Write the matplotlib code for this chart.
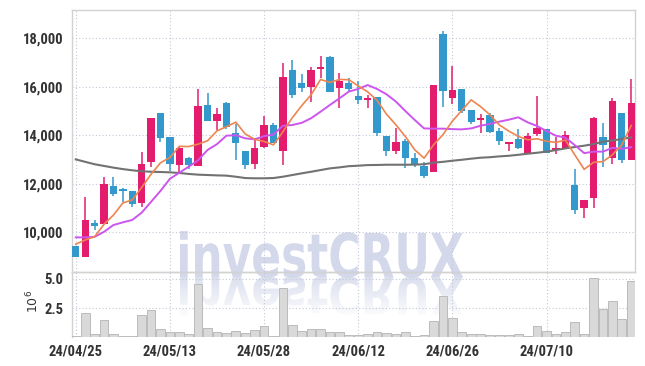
import numpy as np
import matplotlib
matplotlib.use("Agg")
import matplotlib.pyplot as plt
import matplotlib.transforms as mtransforms
from matplotlib.textpath import TextPath
from matplotlib.patches import PathPatch
from matplotlib.font_manager import FontProperties

# daily candles, 24/04/25 .. 24/07/19
opens = [9420, 8980, 10370, 10340, 11900, 11720, 11690, 11210, 12880, 14900,
         13920, 12780, 13060, 12740, 15245, 14600, 15340, 14080, 13350, 12800,
         13520, 14420, 13360, 16690, 16140, 15980, 16740, 17230, 15960, 16170,
         15620, 15440, 15560, 13960, 13350, 13760, 13060, 12740, 12460, 18180,
         15550, 15910, 15040, 14630, 14830, 14170, 13650, 13840, 13260, 14050,
         14250, 13390, 13440, 11940, 10980, 11390, 13910, 13070, 14900, 12970]
highs = [9420, 11430, 10480, 12280, 12260, 11800, 11700, 13320, 14710, 14900,
         13920, 13520, 13110, 15890, 15750, 15110, 15360, 14470, 13350, 13900,
         14790, 14490, 16970, 17100, 16510, 16830, 17280, 17270, 16580, 16370,
         16220, 15660, 15560, 13960, 14280, 13840, 13250, 12900, 16070, 18300,
         16860, 15910, 15040, 14860, 14900, 14280, 13730, 14240, 14080, 15620,
         14250, 13940, 14180, 12590, 11320, 14740, 14490, 15520, 14900, 16320]
lows = [8980, 8980, 10100, 10340, 11500, 11250, 11050, 11020, 12700, 13700,
        12520, 12490, 12590, 12740, 14600, 14210, 14250, 12970, 12600, 12600,
        13480, 13660, 12770, 15550, 15790, 15360, 16350, 15790, 15110, 15800,
        15270, 15110, 13980, 13140, 13210, 12630, 12700, 12220, 12460, 15150,
        15270, 14900, 14450, 14080, 14080, 13590, 13350, 13430, 13210, 13970,
        13260, 13210, 13440, 10730, 10570, 10980, 12700, 12800, 12840, 12970]
closes = [8980, 10500, 10230, 11970, 11580, 11700, 11160, 12810, 14710, 13900,
          12820, 13460, 12760, 15200, 14600, 14860, 14350, 13690, 12770, 13460,
          14420, 13660, 16390, 15660, 15960, 16690, 16820, 15790, 16240, 15900,
          15460, 15540, 14080, 13350, 13720, 13040, 12820, 12330, 16070, 15840,
          15850, 15000, 14560, 14670, 14120, 13760, 13730, 13480, 13970, 14310,
          13260, 13470, 14010, 10910, 11320, 14700, 13590, 15410, 12970, 15320]
ma_short = [9500, 9670, 9810, 10320, 10700, 11200, 11330, 11840, 12390, 12860,
            13080, 13540, 13530, 13630, 13770, 14180, 14350, 14540, 14050, 13830,
            13740, 13600, 14140, 14720, 15220, 15670, 16300, 16180, 16300, 16290,
            16040, 15790, 15440, 14870, 14430, 13950, 13400, 13050, 13600, 14020,
            14580, 15020, 15460, 15180, 14840, 14420, 14170, 13950, 13810, 13850,
            13750, 13700, 13800, 13190, 12590, 12880, 12910, 13190, 13600, 14400]
ma_mid = [9780, 9780, 9800, 10010, 10290, 10400, 10500, 10800, 11250, 11700,
          12200, 12450, 12700, 12970, 13390, 13630, 13980, 14000, 13870, 13830,
          13960, 14030, 14390, 14420, 14510, 14700, 14970, 15250, 15520, 15800,
          15910, 16070, 15910, 15690, 15390, 15000, 14630, 14280, 14270, 14270,
          14250, 14240, 14280, 14390, 14470, 14560, 14640, 14740, 14530, 14380,
          14170, 13980, 13900, 13590, 13260, 13320, 13320, 13480, 13430, 13510]
ma_long = [13000, 12900, 12800, 12730, 12660, 12600, 12550, 12510, 12490, 12480,
           12465, 12440, 12400, 12370, 12355, 12340, 12330, 12285, 12230, 12220,
           12220, 12230, 12285, 12355, 12425, 12490, 12560, 12630, 12670, 12720,
           12740, 12765, 12770, 12780, 12780, 12780, 12785, 12800, 12865, 12900,
           12945, 12985, 13030, 13070, 13090, 13125, 13150, 13190, 13235, 13275,
           13320, 13385, 13455, 13510, 13565, 13635, 13730, 13785, 13840, 13910]
volume = [0.11, 2.07, 0.26, 1.47, 0.26, 0.14, 0.14, 1.90, 2.33, 0.69,
          0.43, 0.43, 0.26, 4.57, 0.78, 0.43, 0.34, 0.52, 0.34, 0.60,
          0.95, 0.14, 4.22, 1.03, 0.52, 0.69, 0.69, 0.49, 0.46, 0.20,
          0.17, 0.29, 0.46, 0.37, 0.29, 0.46, 0.11, 0.17, 1.41, 3.56,
          1.64, 0.46, 0.29, 0.29, 0.20, 0.20, 0.20, 0.29, 0.09, 0.95,
          0.55, 0.29, 0.46, 1.32, 0.29, 5.09, 2.44, 3.10, 1.58, 4.83]
tick_pos = [0, 10, 20, 30, 40, 50]
tick_labels = ["24/04/25", "24/05/13", "24/05/28", "24/06/12", "24/06/26", "24/07/10"]
price_ticks = [10000, 12000, 14000, 16000, 18000]
vol_ticks = [2.5, 5.0]

RED = "#e31c6e"
BLUE = "#3399cc"
GRID = "#c3c8d6"
SPINE = "#d2d2d2"
TXT = "#333333"
tick_font = FontProperties(family=["Roboto Condensed", "Roboto", "DejaVu Sans"],
                           weight="bold", size=10.5)

fig = plt.figure(figsize=(6.45, 3.66), dpi=100)

# watermark with a fading reflection, drawn in pixel coordinates behind the axes
wm = fig.add_axes([0, 0, 1, 1], zorder=0)
wm.axis("off")
tp = TextPath((0, 0), "investCRUX", size=100,
              prop=FontProperties(family="DejaVu Sans", weight="bold"))
ext = tp.get_extents()
sx = 283 / ext.width
sy = 44 / 72.9
upright = mtransforms.Affine2D().translate(-ext.x0, 0).scale(sx, -sy).translate(180, 277)
wm.add_patch(PathPatch(tp, transform=upright + wm.transData, fc="#d3d8ea", ec="none"))
mirror = mtransforms.Affine2D().translate(-ext.x0, 0).scale(sx, sy * 0.85).translate(180, 277)
refl = PathPatch(tp, transform=mirror + wm.transData, fc="none", ec="none")
wm.add_patch(refl)
grad = np.zeros((60, 1, 4))
grad[..., :3] = np.array([211, 216, 234]) / 255
grad[..., 3] = np.linspace(0.8, 0.0, 60)[:, None]
img = wm.imshow(grad, extent=(170, 480, 320, 277), origin="upper",
                aspect="auto", interpolation="bilinear")
img.set_clip_path(refl)
wm.set_xlim(0, 645)
wm.set_ylim(366, 0)

left, right = 72 / 645, 635 / 645
ax = fig.add_axes([left, 1 - 272 / 366, right - left, 262 / 366], zorder=1)
vax = fig.add_axes([left, 1 - 337.3 / 366, right - left, 65.3 / 366], sharex=ax, zorder=1)
for a in (ax, vax):
    a.patch.set_alpha(0)
    for s in a.spines.values():
        s.set_color(SPINE)
        s.set_linewidth(1.0)
    a.grid(True, color=GRID, linestyle=(0, (1, 2)), linewidth=0.8)
    a.set_axisbelow(True)
    a.tick_params(length=0, colors=TXT, pad=6)
vax.spines["bottom"].set_visible(False)
vax.spines["right"].set_visible(False)

x = np.arange(len(closes))
o = np.array(opens)
c = np.array(closes)
colors = np.where(c >= o, RED, BLUE)
ax.vlines(x, lows, highs, colors=colors, linewidth=1.1, zorder=3)
ax.bar(x, np.maximum(np.abs(c - o), 70), 0.78, bottom=np.minimum(o, c),
       color=colors, zorder=4)
ax.plot(x, ma_long, color="#727272", linewidth=1.5, zorder=5)
ax.plot(x, ma_mid, color="#cc55ee", linewidth=1.4, zorder=5)
ax.plot(x, ma_short, color="#ee8550", linewidth=1.2, zorder=5)

ax.set_xlim(-0.4, 59.4)
ax.set_ylim(8350, 19170)
ax.set_yticks(price_ticks)
ax.set_yticklabels([f"{v:,}" for v in price_ticks])
ax.set_xticks(tick_pos)
ax.tick_params(axis="x", labelbottom=False)

vax.bar(x, volume, 0.92, color="#d9d9d9", edgecolor="#b4b4b4", linewidth=0.6, zorder=3)
vax.set_ylim(0, 5.6)
vax.set_yticks(vol_ticks)
vax.set_yticklabels(["2.5", "5.0"])
vax.set_xticks(tick_pos)
vax.set_xticklabels(tick_labels)
vax.tick_params(axis="x", pad=5)
vax.set_ylabel(r"$10^6$", fontsize=9, color=TXT)
vax.yaxis.set_label_coords(-0.055, 0.55)

for lab in ax.get_yticklabels() + vax.get_yticklabels() + vax.get_xticklabels():
    lab.set_fontproperties(tick_font)

fig.savefig("out.png", dpi=100, facecolor="white")
